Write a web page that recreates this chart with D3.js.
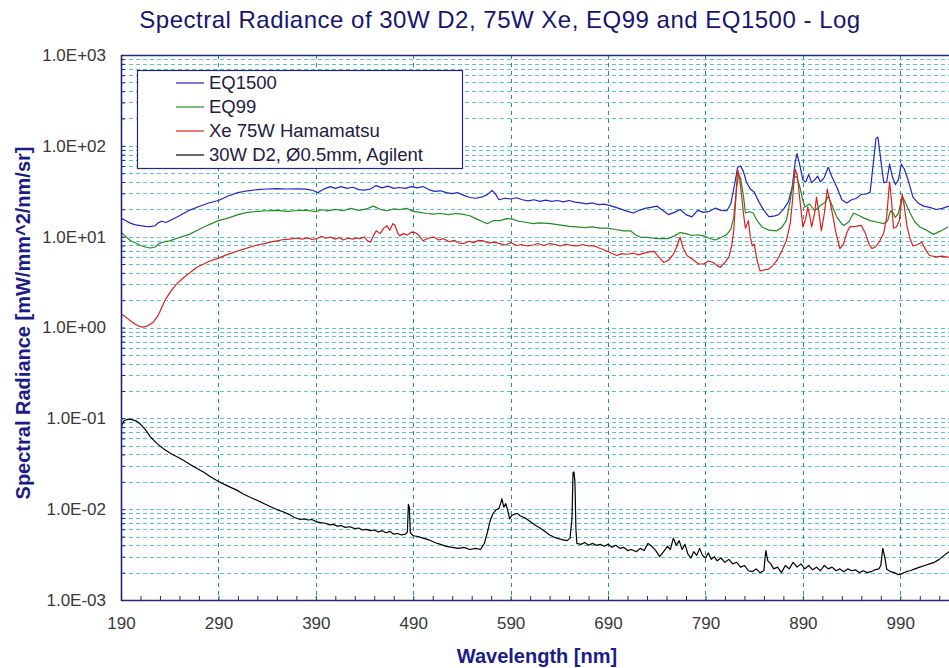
<!DOCTYPE html>
<html>
<head>
<meta charset="utf-8">
<script src="https://cdn.jsdelivr.net/npm/d3@7"></script>
<style>
  body { margin: 0; background: #fff; }
  svg { display: block; font-family: "Liberation Sans", Arial, sans-serif; }
</style>
</head>
<body>
<svg id="chart" width="949" height="668"></svg>
<script>
// tick labels
var xTicks = [190, 290, 390, 490, 590, 690, 790, 890, 990];
var yTicks = [1e-3, 1e-2, 1e-1, 1e0, 1e1, 1e2, 1e3];

// legend / series
var seriesNames = ["EQ1500", "EQ99", "Xe 75W Hamamatsu", "30W D2, \u00d80.5mm, Agilent"];
var seriesColors = ["#2323c8", "#228b22", "#e01e1e", "#000000"];

// EQ1500 (blue)
var eq1500Nm = [190,195,200,205,210,215,220,225,228,232,236,240,250,260,270,280,290,300,310,320,330,340,350,360,370,380,388,392,396,400,405,410,416,422,428,434,440,446,452,458,464,470,476,482,488,494,500,506,512,518,524,530,536,542,548,554,560,566,571,574,578,584,590,596,602,608,614,620,626,632,638,644,650,656,662,668,674,680,686,692,698,704,710,716,722,728,734,740,746,752,758,764,770,776,782,788,794,800,806,812,816,820,823,826,829,832,836,840,845,850,855,860,865,870,875,879,882,884,887,890,893,896,899,902,905,908,912,916,920,925,930,935,940,945,950,955,959,962,965,967,970,973,976,979,982,985,988,991,994,998,1003,1008,1014,1020,1027,1033,1040];
var eq1500Val = [16,15,14,13.5,13.2,13,12.9,13.2,14.2,14.8,14.3,15,17,19.5,21.5,23.5,25,28,30.5,32,33,33.5,33.8,33.5,33.6,33.4,32,30.5,32.5,34,35.5,34,35.5,34,35,33,32.5,33.5,36.5,34.5,36,34,34.8,34,35.5,34.5,35.7,33,31.5,32,30.5,29.8,30.5,28.5,27,26.5,27.2,29,32.2,30,25.5,26.5,26,26.8,25.5,24.8,25.5,24.5,25.2,24.5,25,24.2,25,24,23.5,23,23.5,22.5,22.8,22,21,20,19,18.2,19.5,20.5,21,21.7,19.5,17.5,18.5,19.9,17.5,16.5,19.5,18.5,19,20.6,19.5,19.3,23,38,58,60,52,40,33.5,31,24,19.5,16.6,16.8,17.5,20,24,34.8,65,82,60,42,40,48.5,39.3,42,46.4,40,45,58,45,34.8,25.5,23.5,25.5,26.5,29.2,29.5,30.7,60,120,125,70,39.3,40,63,45,37.5,42,63,56,42,27.2,23.5,21.7,21,19.9,20.5,21.7];

// EQ99 (green)
var eq99Nm = [190,195,200,205,210,215,220,225,230,235,240,250,260,270,280,290,300,310,320,330,340,350,360,370,380,390,396,402,410,418,426,434,442,449,456,463,470,476,483,490,497,504,510,518,526,534,540,548,556,562,566,572,579,586,592,598,604,613,620,631,640,650,658,666,674,682,689,698,706,713,718,723,730,737,744,751,758,764,770,776,782,788,794,800,806,812,816,819,822,824,826,829,831,835,839,843,848,855,863,868,873,877,881,884,887,890,892,897,902,906,909,913,916,920,925,930,932,937,942,948,953,959,966,973,977,980,983,985,988,992,995,1000,1005,1010,1017,1024,1031,1039];
var eq99Val = [11.2,10,9,8.5,8,7.7,7.5,7.7,8.5,8.8,9,9.8,10.6,12,13.5,15,16,17.5,18.5,19,19.3,19.5,19,19.3,19.6,18.8,19.8,19.2,20,19.3,20.5,19.5,20.2,21.7,20,19.3,20.2,19.9,20.5,19,18.5,18,17.7,18,17.5,18,17.7,17,15.5,14.5,13.9,15,15,15.8,15.6,14.8,14.5,13.9,14.2,13.9,13.5,13,12.8,12.6,12.8,12.4,12.4,12,11.6,11.6,10.5,9.9,9.8,9.6,9.5,9.5,10.2,11.1,10.8,10.3,10.5,10.2,9.6,9.2,9.8,10.6,12,16.3,35,48,44,28,18.2,18.8,18.2,15,12.8,11.8,11.6,12.5,15,25,46.4,45,34.8,25,21.2,22.9,19.3,21,22.5,24,27.9,22,16.3,13.8,13.3,14.5,18.2,17,16,15,14.5,13.9,15,19.3,18,16.3,18,27.9,24,18.2,14.5,12.8,11.8,10.6,11.5,12.8];

// Xe 75W Hamamatsu (red)
var xeNm = [190,195,200,205,210,213,218,223,228,235,241,247,255,262,268,275,281,288,295,302,309,316,323,330,337,343,350,357,363,370,376,382,386,391,396,400,405,410,414,418,423,428,432,435,440,443,446,449,452,456,460,463,466,469,471,474,476,480,484,488,492,496,500,505,511,516,521,527,532,537,542,547,552,557,562,567,573,579,585,590,596,601,607,613,618,624,630,636,641,647,652,658,664,670,676,682,688,693,699,704,710,716,721,727,732,737,742,747,752,757,760,764,767,771,774,778,783,788,793,798,802,805,810,814,817,819,821,823,825,827,829,831,833,834,836,838,840,843,846,850,855,859,863,868,873,877,879,881,882,884,885,887,890,893,895,897,899,902,904,906,909,912,915,918,921,924,928,932,935,938,944,950,954,958,961,965,969,973,976,978,979,981,983,986,989,992,994,997,1000,1003,1008,1012,1016,1020,1027,1033,1040];
var xeVal = [1.42,1.3,1.18,1.08,1.02,1.01,1.05,1.14,1.35,1.98,2.5,3.0,3.6,4.1,4.6,5.0,5.4,5.7,6.1,6.5,6.9,7.3,7.7,8.1,8.4,8.7,9.0,9.3,9.4,9.6,9.4,9.7,9.3,9.5,10.1,9.6,9.9,9.4,9.8,9.2,9.6,9.4,9.7,9.5,9.9,9.0,8.7,10.2,11.6,10.8,12.5,13.2,11.8,13.9,13.5,11,10.2,10.8,10.4,11.2,11.1,10.3,9.0,9.6,9.9,9.2,9.5,8.8,9.1,8.5,8.4,8.9,8.6,9.1,9.0,8.5,8.7,8.4,8.1,8.6,8.0,8.2,7.9,8.1,8.4,8.0,8.4,8.2,7.9,8.3,8.0,7.9,8.2,7.9,7.9,7.4,7.0,6.6,6.2,6.5,6.4,6.6,6.3,6.6,6.8,6.9,6.0,5.2,5.5,6.4,7.5,9.9,7.5,6.2,5.9,5.5,5.0,5.0,5.4,5.2,4.8,4.6,5.2,5.9,8,11.6,25,55,45,29.2,18,12.4,14,15.0,10,7.9,8.3,5.5,4.2,4.3,4.4,4.8,5.4,6.8,9.0,14,22.9,42,55.5,48,40.2,25,12.8,16,21.2,17,12.8,18,27.2,20,11.6,18,33.4,24,16.3,11,7.4,8.5,11,12.8,13,13.3,11,8.2,7.4,7.8,9.0,11,16.3,30,40.2,25,12.4,12.8,15,29.2,22,12.8,9.5,7.9,8.2,8.7,7.2,6.2,6.0,6.1,5.9];

// 30W D2, Agilent (black)
var d2Nm = [190,191,193,196,199,202,206,210,215,220,227,234,241,247,254,261,268,275,281,288,295,302,309,315,322,329,336,343,350,357,363,368,374,378,382,386,390,395,400,404,408,412,416,420,425,430,434,438,442,446,450,454,458,462,466,470,474,478,482,484,485,486,487,490,495,500,506,512,518,524,530,536,542,548,554,559,563,566,569,572,575,578,580,581,583,585,587,589,591,594,597,600,605,610,615,620,625,630,635,640,644,648,651,653,654,655,656,657,658,662,666,670,674,678,682,686,690,694,698,702,706,710,714,719,723,727,731,735,739,743,747,751,754,757,760,763,766,769,772,775,778,781,784,787,790,793,796,799,802,806,810,814,818,822,826,830,834,838,842,846,850,851,852,854,857,860,864,868,872,876,880,884,888,892,896,900,904,908,912,916,920,924,928,932,936,940,944,948,952,956,960,964,968,970,972,974,976,980,984,988,992,996,1000,1005,1010,1015,1020,1025,1030,1035,1040];
var d2Val = [0.074,0.085,0.094,0.097,0.098,0.096,0.093,0.086,0.075,0.063,0.0527,0.046,0.041,0.038,0.0345,0.031,0.028,0.0255,0.023,0.0208,0.019,0.0175,0.0162,0.0148,0.0136,0.0126,0.0116,0.0107,0.0099,0.0093,0.0087,0.0081,0.0077,0.0078,0.0076,0.0077,0.0073,0.0071,0.0070,0.0067,0.0068,0.0065,0.0066,0.0063,0.0064,0.0061,0.0062,0.0059,0.0060,0.0058,0.0059,0.0056,0.0058,0.0055,0.0057,0.0053,0.0054,0.0052,0.0053,0.0056,0.0113,0.0105,0.0055,0.0051,0.0050,0.0048,0.0046,0.0043,0.0041,0.0039,0.0038,0.0037,0.0038,0.0036,0.0037,0.0036,0.0042,0.0055,0.0075,0.0090,0.0098,0.0102,0.0118,0.0131,0.0105,0.0115,0.0097,0.0078,0.0085,0.0088,0.0090,0.0084,0.0080,0.0073,0.0067,0.0062,0.0057,0.0052,0.0049,0.0047,0.0046,0.0045,0.0048,0.0080,0.0250,0.0257,0.0200,0.0060,0.0042,0.0041,0.0043,0.0040,0.0042,0.0040,0.0041,0.0039,0.0041,0.0038,0.0040,0.0037,0.0038,0.0035,0.0036,0.0034,0.0037,0.0035,0.0042,0.0039,0.0035,0.0030,0.0034,0.0039,0.0036,0.0048,0.0040,0.0045,0.0036,0.0041,0.0032,0.0029,0.0034,0.0031,0.0037,0.0031,0.0029,0.0033,0.0028,0.0030,0.0027,0.0029,0.0026,0.0028,0.0025,0.0026,0.0023,0.0024,0.0021,0.00205,0.0022,0.0020,0.0021,0.0028,0.0035,0.0027,0.0025,0.0022,0.0023,0.0020,0.0024,0.0022,0.0026,0.0023,0.0025,0.0022,0.0024,0.00215,0.0023,0.0021,0.0024,0.0022,0.0023,0.0021,0.0022,0.00205,0.0022,0.0021,0.00215,0.0020,0.0021,0.0020,0.00205,0.00215,0.0022,0.0024,0.0037,0.0030,0.0022,0.00205,0.0020,0.0019,0.00195,0.00205,0.0021,0.0022,0.0023,0.0024,0.0025,0.0026,0.0028,0.0031,0.0034];

var seriesNm = [eq1500Nm, eq99Nm, xeNm, d2Nm];
var seriesVal = [eq1500Val, eq99Val, xeVal, d2Val];

var svg = d3.select("#chart");
var plotLeft = 121, plotTop = 55, plotBottom = 600, plotRight = 949;
var navy = "#24247a";

var x = d3.scaleLinear().domain([190, 1040]).range([plotLeft, plotRight]);
var y = d3.scaleLog().domain([1e-3, 1e3]).range([plotBottom, plotTop]);

svg.append("defs").append("clipPath").attr("id", "plotClip")
    .append("rect").attr("x", plotLeft).attr("y", plotTop - 1)
    .attr("width", plotRight - plotLeft).attr("height", plotBottom - plotTop + 1);

// minor log values for horizontal grid
var yMinor = [];
for (var e = -3; e < 3; e++) {
    for (var m = 1; m < 10; m++) yMinor.push(m * Math.pow(10, e));
}
yMinor.push(1e3);

// horizontal dashed grid
svg.append("g").selectAll("line")
    .data(yMinor.filter(function(d) { return d > 1e-3; }))
    .enter().append("line")
    .attr("x1", plotLeft + 1).attr("x2", plotRight)
    .attr("y1", function(d) { return Math.round(y(d)) + 0.5; })
    .attr("y2", function(d) { return Math.round(y(d)) + 0.5; })
    .attr("stroke", "#5cc6c6")
    .attr("stroke-width", 1)
    .attr("stroke-dasharray", "4,3");

// vertical dashed grid
svg.append("g").selectAll("line")
    .data(xTicks.slice(1))
    .enter().append("line")
    .attr("x1", function(d) { return Math.round(x(d)) + 0.5; })
    .attr("x2", function(d) { return Math.round(x(d)) + 0.5; })
    .attr("y1", plotTop).attr("y2", plotBottom)
    .attr("stroke", "#2f8a8a")
    .attr("stroke-width", 1)
    .attr("stroke-dasharray", "4,4");

// series lines
var line = d3.line()
    .x(function(d) { return x(d[0]); })
    .y(function(d) { return y(d[1]); });

var plot = svg.append("g").attr("clip-path", "url(#plotClip)");
// black first, coloured ones on top
[3, 0, 1, 2].forEach(function(i) {
    var pts = d3.zip(seriesNm[i], seriesVal[i]);
    plot.append("path")
        .datum(pts)
        .attr("fill", "none")
        .attr("stroke", seriesColors[i])
        .attr("stroke-width", 1.2)
        .attr("stroke-linejoin", "round")
        .attr("d", line);
});

// x axis: minor ticks every 20nm pointing inward
var xMinor = d3.range(190, 1041, 20);
svg.append("g")
    .attr("transform", "translate(0," + plotBottom + ")")
    .call(d3.axisBottom(x).tickValues(xMinor).tickSize(-4).tickFormat(""))
    .call(function(g) {
        g.select(".domain").remove();
        g.selectAll("line").attr("stroke", navy);
    });

svg.append("g")
    .attr("transform", "translate(0," + plotBottom + ")")
    .call(d3.axisBottom(x).tickValues(xTicks).tickSize(0).tickPadding(17))
    .call(function(g) {
        g.select(".domain").remove();
        g.selectAll("text")
            .attr("fill", "#383838")
            .style("font-size", "17px")
            .style("font-family", "'Liberation Sans', Arial, sans-serif");
    });

// y axis: minor ticks inward
svg.append("g")
    .attr("transform", "translate(" + plotLeft + ",0)")
    .call(d3.axisLeft(y).tickValues(yMinor).tickSize(-4).tickFormat(""))
    .call(function(g) {
        g.select(".domain").remove();
        g.selectAll("line").attr("stroke", navy);
    });

function expLabel(d) {
    var ex = Math.round(Math.log10(d));
    var sign = ex < 0 ? "-" : "+";
    var a = Math.abs(ex);
    return "1.0E" + sign + (a < 10 ? "0" : "") + a;
}

svg.append("g")
    .attr("transform", "translate(" + plotLeft + ",0)")
    .call(d3.axisLeft(y).tickValues(yTicks).tickSize(0).tickPadding(15).tickFormat(expLabel))
    .call(function(g) {
        g.select(".domain").remove();
        g.selectAll("text")
            .attr("fill", "#383838")
            .style("font-size", "17px")
            .style("font-family", "'Liberation Sans', Arial, sans-serif");
    });

// frame: left, bottom, top
svg.append("path")
    .attr("d", "M" + plotRight + "," + (plotTop + 0.5) + "H" + (plotLeft + 0.5) + "V" + (plotBottom + 0.5) + "H" + plotRight)
    .attr("fill", "none")
    .attr("stroke", navy)
    .attr("stroke-width", 1.6);

// legend
var lg = svg.append("g");
lg.append("rect")
    .attr("x", 137.5).attr("y", 70.5)
    .attr("width", 325).attr("height", 98)
    .attr("fill", "#fff")
    .attr("stroke", navy)
    .attr("stroke-width", 1.2);

var entries = lg.selectAll("g.entry")
    .data(seriesNames)
    .enter().append("g")
    .attr("class", "entry")
    .attr("transform", function(d, i) { return "translate(0," + (83 + i * 24) + ")"; });

entries.append("line")
    .attr("x1", 176).attr("x2", 204)
    .attr("stroke", function(d, i) { return seriesColors[i]; })
    .attr("stroke-width", 1.2);

entries.append("text")
    .attr("x", 209)
    .attr("dy", "0.35em")
    .attr("fill", "#202040")
    .style("font-size", "18.5px")
    .text(function(d) { return d; });

// title
svg.append("text")
    .attr("x", 500).attr("y", 28)
    .attr("text-anchor", "middle")
    .attr("fill", "#16166e")
    .style("font-size", "24px")
    .style("letter-spacing", "0.5px")
    .text("Spectral Radiance of 30W D2, 75W Xe, EQ99 and EQ1500 - Log");

// axis titles
svg.append("text")
    .attr("x", 537).attr("y", 663)
    .attr("text-anchor", "middle")
    .attr("fill", "#1c1c88")
    .style("font-size", "20px")
    .style("font-weight", "bold")
    .text("Wavelength [nm]");

svg.append("text")
    .attr("transform", "translate(30,323) rotate(-90)")
    .attr("text-anchor", "middle")
    .attr("fill", "#1c1c88")
    .style("font-size", "20px")
    .style("font-weight", "bold")
    .text("Spectral Radiance [mW/mm^2/nm/sr]");
</script>
</body>
</html>
